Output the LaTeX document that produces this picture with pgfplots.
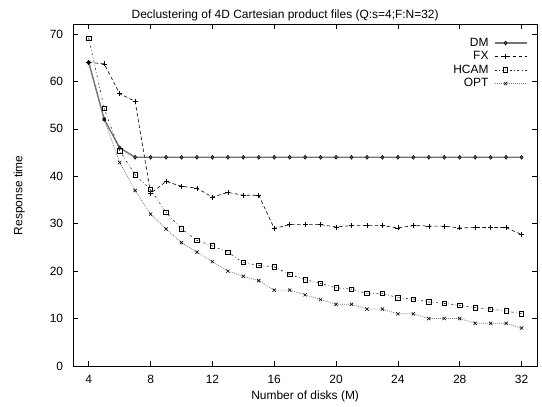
\documentclass[border=0pt]{standalone}
\usepackage{fontspec}
\setmainfont{Liberation Sans}
\usepackage{pgfplots}
\pgfplotsset{compat=1.18}
\pgfdeclareplotmark{sqdot}{%
  \pgfpathrectangle{\pgfpoint{-\pgfplotmarksize}{-\pgfplotmarksize}}{\pgfpoint{2\pgfplotmarksize}{2\pgfplotmarksize}}%
  \pgfusepathqstroke
  \pgfpathcircle{\pgfpointorigin}{0.4pt}\pgfusepathqfill}
\definecolor{dmgray}{gray}{0.45}
\definecolor{optgray}{gray}{0.5}
\begin{document}
\begin{tikzpicture}
\fontsize{12}{12}\selectfont
\begin{axis}[
  name=ax,
  scale only axis,
  width=463.7bp, height=341.5bp,
  xmin=3, xmax=33, ymin=0, ymax=72,
  xtick={4,8,...,32}, ytick={0,10,...,70},
  tick align=inside, tick pos=both,
  major tick length=5bp,
  axis line style={line width=0.8bp},
  tick style={black, line width=0.6bp},
  /pgf/number format/assume math mode=true,
  ticklabel style={font=\fontsize{12}{12}\selectfont},
  yticklabel style={xshift=-6bp},
  xticklabel style={yshift=-5bp},
  xlabel={Number of disks (M)},
  ylabel={Response time},
  xlabel style={at={(axis description cs:0.5,0)}, anchor=base, yshift=-34bp, font=\fontsize{12}{12}\selectfont},
  ylabel style={at={(axis description cs:-0.1165,0.5)}, anchor=center, font=\fontsize{12}{12}\selectfont},
  legend style={draw=none, fill=none, at={(rel axis cs:1,1)}, anchor=north east,
    xshift=-9.5bp, yshift=-13bp, row sep=2.6bp, inner sep=0pt,
    font=\fontsize{12}{12}\selectfont,
    nodes={inner sep=0.4bp}},
  legend cell align=right,
  legend plot pos=right,
  legend image code/.code={\draw[mark repeat=2,mark phase=2,#1] plot coordinates {(0bp,0bp) (11bp,0bp) (32bp,0bp)};},
  clip=false,
]
\addplot[dmgray, line width=1.4bp, mark=diamond*, mark size=2bp, mark options={solid, fill=dmgray!80!black, draw=black, line width=0.5bp}] coordinates {
(4,64) (5,52) (6,46) (7,44) (8,44) (9,44) (10,44) (11,44) (12,44) (13,44) (14,44) (15,44) (16,44) (17,44) (18,44) (19,44) (20,44) (21,44) (22,44) (23,44) (24,44) (25,44) (26,44) (27,44) (28,44) (29,44) (30,44) (31,44) (32,44)};
\addlegendentry{DM\kern5bp}
\addplot[black, line width=0.6bp, dash pattern=on 3.5bp off 2.5bp, mark=+, mark size=2.5bp, mark options={solid, line width=0.6bp}] coordinates {
(4,64) (5,63.7) (6,57.4) (7,55.8) (8,36.4) (9,38.9) (10,37.9) (11,37.5) (12,35.6) (13,36.6) (14,36) (15,36) (16,29) (17,29.8) (18,29.8) (19,29.8) (20,29.3) (21,29.6) (22,29.6) (23,29.6) (24,29.1) (25,29.6) (26,29.5) (27,29.5) (28,29.1) (29,29.2) (30,29.2) (31,29.2) (32,27.7)};
\addlegendentry{FX\kern5bp}
\addplot[black!85, line width=0.6bp, dash pattern=on 2bp off 2.5bp on 0.6bp off 2.5bp, mark=sqdot, mark size=2.2bp, mark options={solid, black, line width=0.7bp}] coordinates {
(4,69.1) (5,54.3) (6,45.4) (7,40.3) (8,37.2) (9,32.4) (10,28.9) (11,26.5) (12,25.3) (13,24) (14,21.8) (15,21.2) (16,20.9) (17,19.3) (18,18.2) (19,17.4) (20,16.5) (21,16.2) (22,15.3) (23,15.3) (24,14.4) (25,14.1) (26,13.5) (27,13.2) (28,12.8) (29,12.3) (30,12) (31,11.6) (32,11)};
\addlegendentry{HCAM\kern5bp}
\addplot[optgray, line width=0.7bp, dash pattern=on 1bp off 1bp, mark=x, mark size=2.3bp, mark options={solid, black, line width=0.6bp}] coordinates {
(4,64) (5,52) (6,42.9) (7,37) (8,32) (9,28.9) (10,26) (11,24) (12,22) (13,20) (14,18.9) (15,18) (16,16) (17,16) (18,15) (19,14) (20,13) (21,13) (22,12) (23,12) (24,11) (25,11) (26,10) (27,10) (28,10) (29,9) (30,9) (31,9) (32,8)};
\addlegendentry{OPT\kern5bp}
\end{axis}
\node[anchor=base, inner sep=0pt] at ([xshift=-20bp,yshift=5.5bp]ax.north) {Declustering of 4D Cartesian product files (Q:s=4;F:N=32)};
\pgfresetboundingbox
\path[use as bounding box] ([xshift=-73.3bp,yshift=-41bp]ax.south west) rectangle ([xshift=5bp,yshift=24.5bp]ax.north east);
\end{tikzpicture}
\end{document}
